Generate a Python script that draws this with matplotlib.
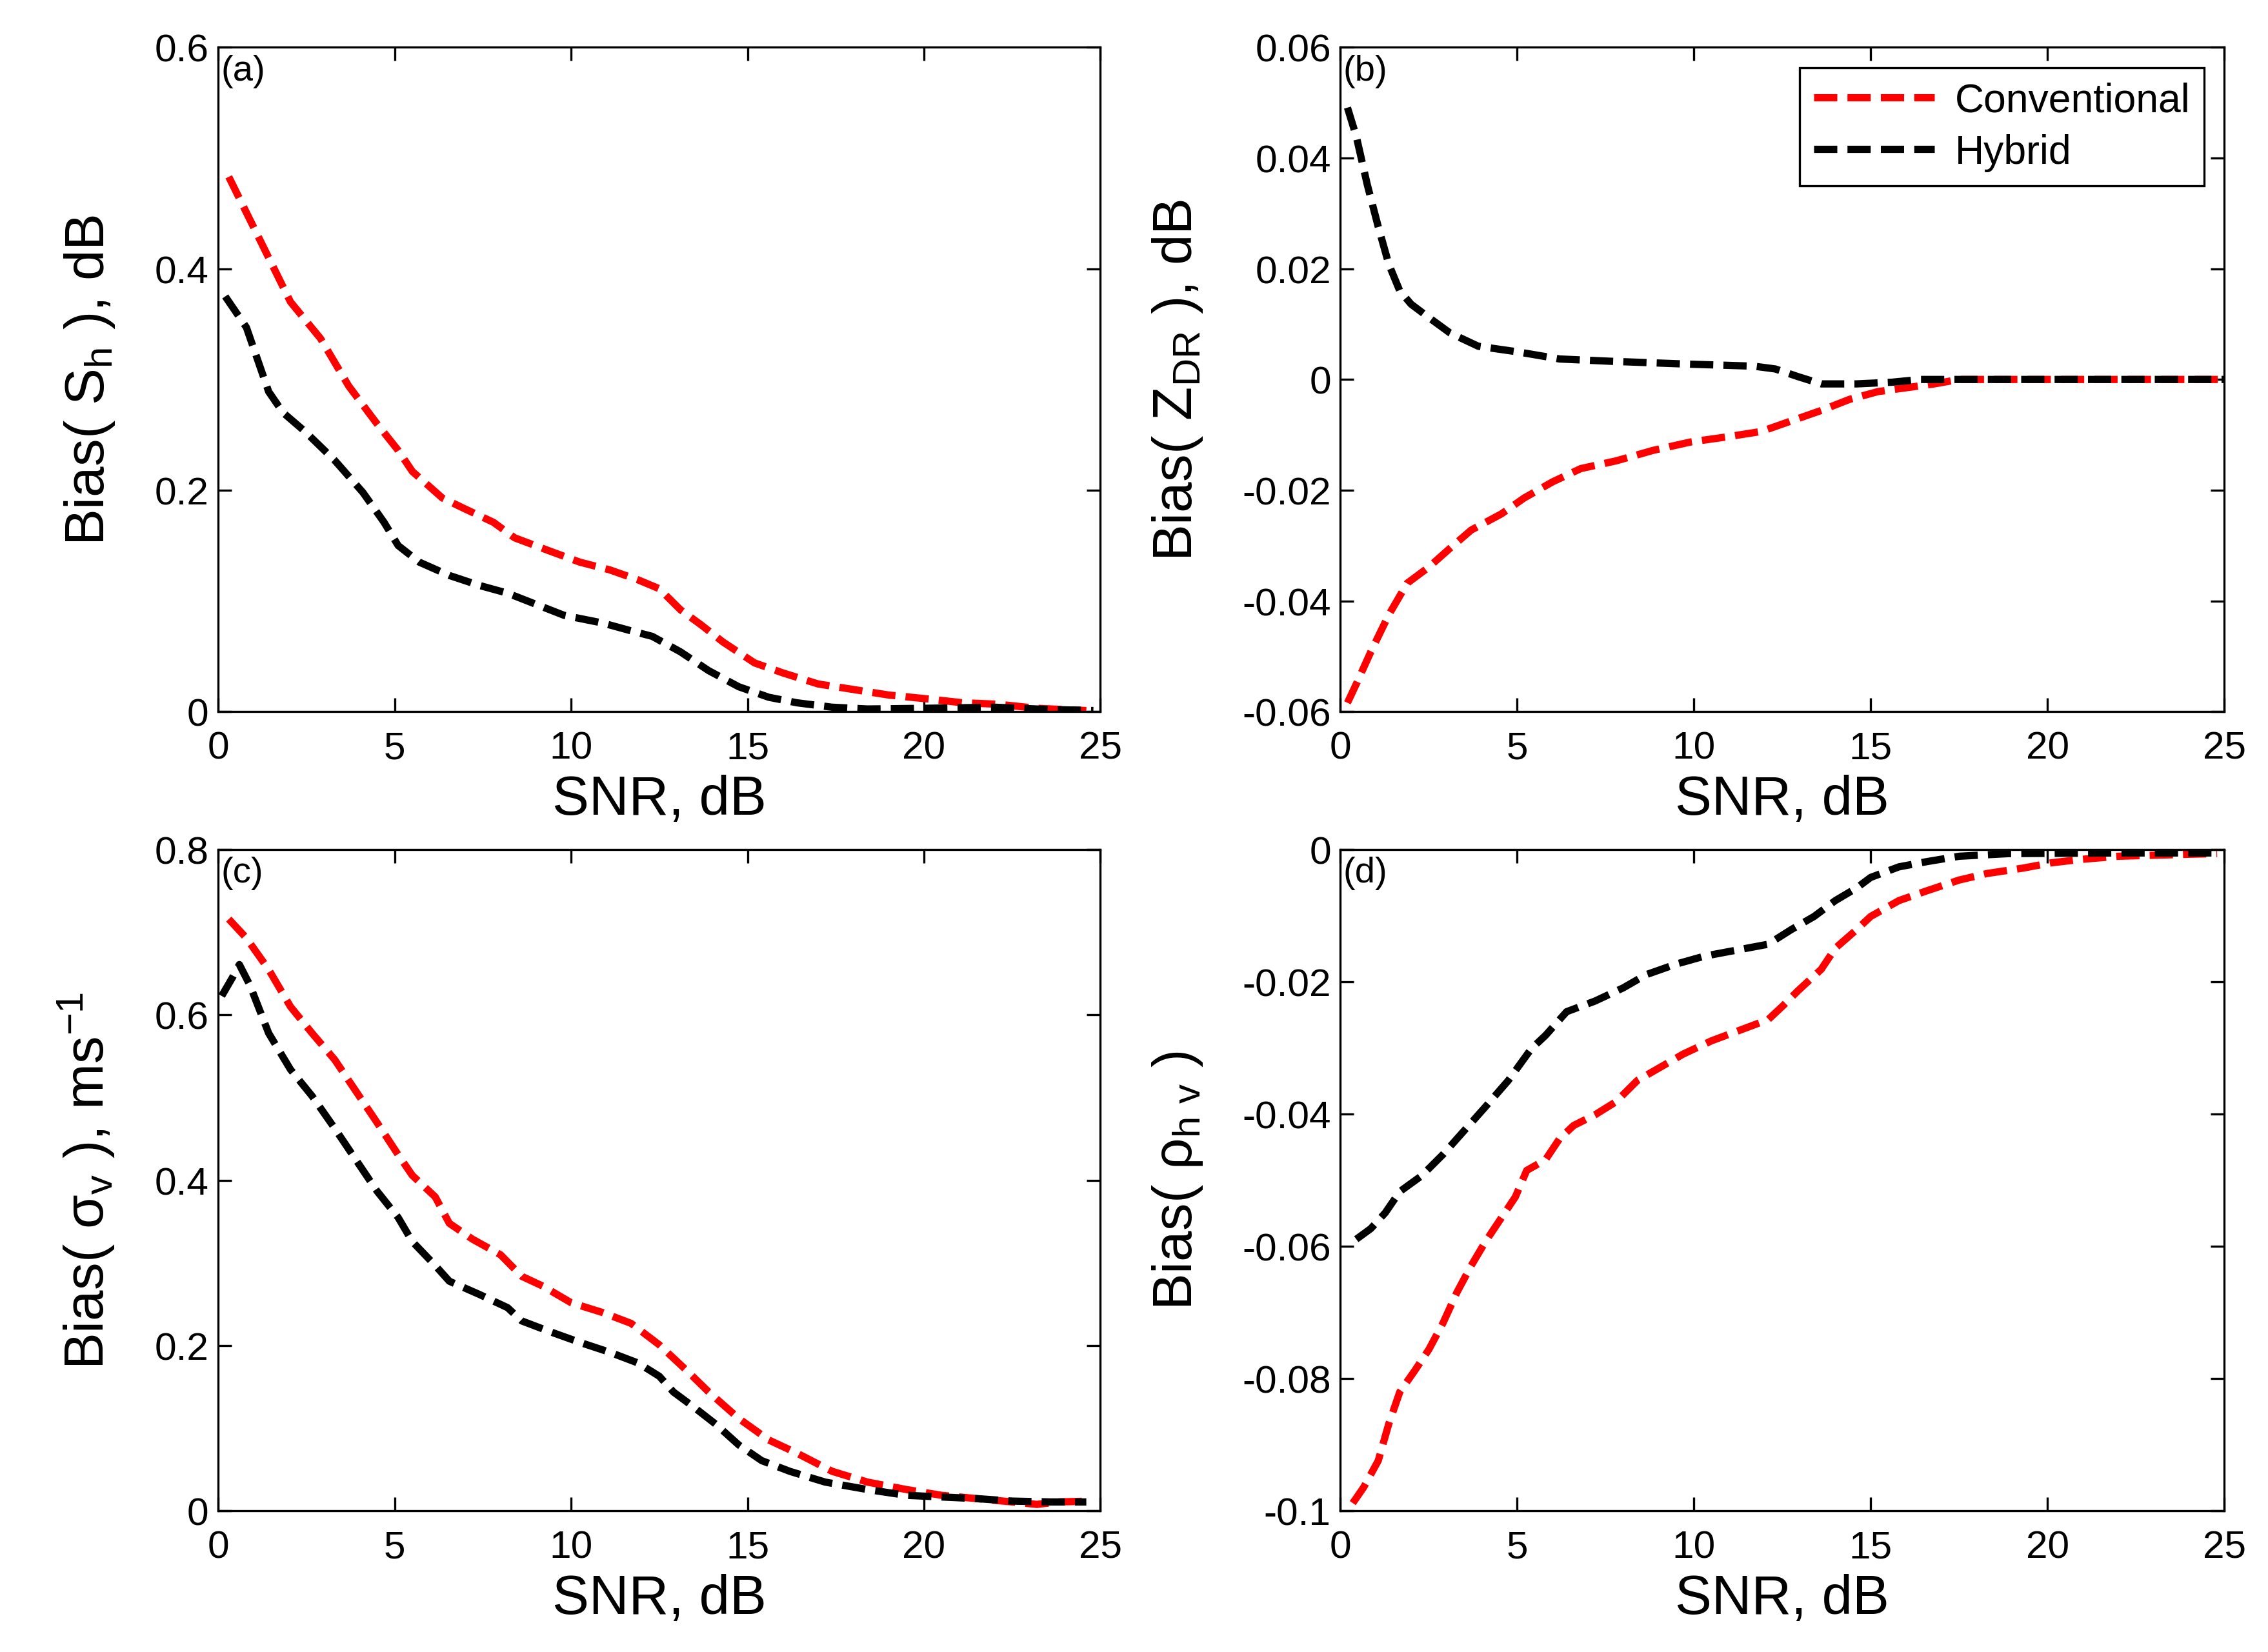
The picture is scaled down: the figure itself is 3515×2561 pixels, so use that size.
import numpy as np
import matplotlib.pyplot as plt

plt.rcParams['font.family'] = ['Liberation Sans', 'DejaVu Sans']
plt.rcParams['mathtext.default'] = 'regular'

# (a) Bias(S_h)
xa_conv = [0.3, 2.05, 2.9, 3.7, 4.5, 5.1, 5.5, 6.35, 7.0, 7.8, 8.4, 9.4, 10.25, 11.1, 11.9,
           12.5, 13.1, 13.7, 14.3, 15.2, 16.0, 17.0, 18.0, 19.0, 20.1, 21.1, 22.1, 23.2, 24.6]
ya_conv = [0.483, 0.37, 0.337, 0.294, 0.26, 0.236, 0.217, 0.193, 0.183, 0.171, 0.157, 0.145,
           0.135, 0.128, 0.119, 0.111, 0.092, 0.078, 0.063, 0.044, 0.035, 0.025, 0.02, 0.015,
           0.0115, 0.008, 0.0067, 0.003, 0.001]
xa_hyb = [0.2, 0.8, 1.43, 1.84, 2.46, 3.3, 4.1, 4.7, 5.1, 5.7, 6.55, 7.4, 8.2, 9.0, 9.8, 10.9,
          11.7, 12.3, 13.1, 13.9, 14.75, 15.6, 16.4, 17.4, 18.4, 20.0, 22.0, 23.5, 24.8]
ya_hyb = [0.375, 0.347, 0.289, 0.27, 0.253, 0.227, 0.198, 0.171, 0.15, 0.135, 0.123, 0.114,
          0.107, 0.097, 0.087, 0.08, 0.073, 0.068, 0.054, 0.037, 0.0225, 0.013, 0.008, 0.004,
          0.0024, 0.003, 0.004, 0.002, 0.001]

# (b) Bias(Z_DR)
xb_conv = [0.2, 0.45, 0.86, 1.37, 1.89, 2.5, 3.1, 3.7, 4.55, 5.2, 6.0, 6.8, 7.8, 8.85, 9.9,
           10.9, 11.9, 12.75, 13.6, 14.4, 15.2, 16.0, 16.8, 17.5, 20.0, 25.0]
yb_conv = [-0.0584, -0.055, -0.0492, -0.0425, -0.0368, -0.0339, -0.0305, -0.0272, -0.0243,
           -0.0214, -0.0185, -0.0161, -0.0147, -0.0128, -0.0113, -0.0104, -0.0094, -0.0075,
           -0.0056, -0.0036, -0.0022, -0.0015, -0.0008, 0.0, 0.0, 0.0]
xb_hyb = [0.2, 0.45, 0.76, 1.07, 1.37, 1.68, 2.0, 2.5, 3.1, 3.9, 5.0, 6.2, 7.6, 9.7, 11.7,
          12.3, 12.95, 13.6, 14.6, 15.6, 16.4, 20.0, 25.0]
yb_hyb = [0.0491, 0.0439, 0.0352, 0.0276, 0.0208, 0.016, 0.0136, 0.0112, 0.0084, 0.006,
          0.005, 0.0037, 0.0033, 0.0028, 0.0024, 0.0019, 0.0005, -0.0008, -0.0008, -0.0005,
          0.0, 0.0, 0.0]

# (c) Bias(sigma_v)
xc_conv = [0.3, 0.8, 1.43, 2.05, 2.66, 3.3, 3.9, 4.5, 5.1, 5.5, 6.15, 6.55, 7.2, 8.0, 8.6,
           9.2, 10.0, 10.9, 11.7, 12.5, 13.3, 13.9, 14.75, 15.6, 16.4, 17.4, 18.4, 19.5, 20.5,
           21.5, 22.5, 23.2, 23.8, 24.7]
yc_conv = [0.716, 0.693, 0.655, 0.61, 0.578, 0.546, 0.508, 0.47, 0.431, 0.406, 0.38, 0.348,
           0.329, 0.31, 0.284, 0.272, 0.252, 0.24, 0.227, 0.201, 0.169, 0.144, 0.112, 0.086,
           0.07, 0.048, 0.035, 0.026, 0.019, 0.015, 0.011, 0.008, 0.011, 0.012]
xc_hyb = [0.1, 0.4, 0.6, 0.9, 1.43, 2.05, 2.66, 3.3, 3.9, 4.5, 5.1, 5.5, 6.15, 6.55, 7.4,
          8.2, 8.6, 9.4, 10.25, 11.1, 11.9, 12.5, 12.9, 13.5, 14.1, 14.75, 15.4, 16.2, 17.2,
          18.4, 19.5, 20.5, 21.5, 22.5, 23.6, 24.6]
yc_hyb = [0.623, 0.645, 0.661, 0.636, 0.578, 0.534, 0.502, 0.463, 0.425, 0.387, 0.355, 0.326,
          0.297, 0.278, 0.262, 0.246, 0.23, 0.217, 0.204, 0.192, 0.179, 0.163, 0.144, 0.125,
          0.105, 0.08, 0.061, 0.048, 0.035, 0.026, 0.019, 0.017, 0.015, 0.012, 0.011, 0.011]

# (d) Bias(rho_hv)
xd_conv = [0.35, 0.66, 1.07, 1.37, 1.68, 2.1, 2.5, 2.9, 3.3, 3.7, 4.1, 4.55, 4.95, 5.27, 5.8,
           6.2, 6.6, 7.2, 7.8, 8.4, 9.05, 9.7, 10.5, 11.3, 12.1, 12.5, 12.95, 13.6, 14.0, 14.6,
           15.0, 15.8, 16.6, 17.5, 18.3, 19.3, 20.1, 20.9, 22.0, 24.0, 24.8]
yd_conv = [-0.0988, -0.0964, -0.0924, -0.0868, -0.082, -0.0788, -0.0756, -0.0716, -0.0669,
           -0.0629, -0.0593, -0.0557, -0.0525, -0.0485, -0.0469, -0.0437, -0.0417, -0.0401,
           -0.0381, -0.0349, -0.0329, -0.0309, -0.0289, -0.0273, -0.0257, -0.0237, -0.0213,
           -0.0181, -0.0149, -0.0121, -0.0101, -0.0077, -0.0062, -0.0046, -0.0036, -0.0028,
           -0.002, -0.0015, -0.001, -0.0007, -0.0006]
xd_hyb = [0.45, 0.86, 1.27, 1.68, 2.3, 2.9, 3.5, 4.1, 4.75, 5.4, 5.8, 6.4, 7.2, 8.0, 8.65,
          9.5, 10.3, 11.1, 12.1, 12.75, 13.4, 14.0, 14.6, 15.0, 15.8, 16.6, 17.5, 18.9, 22.0,
          24.8]
yd_hyb = [-0.0589, -0.0573, -0.0549, -0.0517, -0.0493, -0.0461, -0.0425, -0.0389, -0.0349,
          -0.0301, -0.0281, -0.0245, -0.0229, -0.0209, -0.0189, -0.0173, -0.0161, -0.0153,
          -0.0143, -0.0121, -0.0101, -0.0077, -0.0058, -0.0042, -0.0026, -0.0018, -0.001,
          -0.0006, -0.0005, -0.0005]

panels = [
    ('(a)', r'Bias( S$_h$ ), dB', (0, 0.6), [0, 0.2, 0.4, 0.6], ['0', '0.2', '0.4', '0.6'],
     xa_conv, ya_conv, xa_hyb, ya_hyb),
    ('(b)', r'Bias( Z$_{DR}$ ), dB', (-0.06, 0.06),
     [-0.06, -0.04, -0.02, 0, 0.02, 0.04, 0.06],
     ['-0.06', '-0.04', '-0.02', '0', '0.02', '0.04', '0.06'],
     xb_conv, yb_conv, xb_hyb, yb_hyb),
    ('(c)', r'Bias( $\sigma_v$ ), ms$^{-1}$', (0, 0.8), [0, 0.2, 0.4, 0.6, 0.8],
     ['0', '0.2', '0.4', '0.6', '0.8'], xc_conv, yc_conv, xc_hyb, yc_hyb),
    ('(d)', r'Bias( $\rho_{h\ v}$ )', (-0.1, 0), [-0.1, -0.08, -0.06, -0.04, -0.02, 0],
     ['-0.1', '-0.08', '-0.06', '-0.04', '-0.02', '0'], xd_conv, yd_conv, xd_hyb, yd_hyb),
]

fig = plt.figure(figsize=(3515 / 300, 2562 / 300), dpi=300)
rects = [(0.0962, 0.569, 0.389, 0.402), (0.591, 0.569, 0.3897, 0.402),
         (0.0962, 0.0853, 0.389, 0.4002), (0.591, 0.0853, 0.3897, 0.4002)]

dash = (3.2, 1.4)
for rect, (tag, ylab, ylim, yt, ytl, xc, yc, xh, yh) in zip(rects, panels):
    ax = fig.add_axes(rect)
    ax.plot(xc, yc, color='red', lw=2.7, dashes=dash, label='Conventional')
    ax.plot(xh, yh, color='black', lw=2.7, dashes=dash, label='Hybrid')
    ax.set_xlim(0, 25)
    ax.set_ylim(*ylim)
    ax.set_xticks([0, 5, 10, 15, 20, 25])
    ax.set_yticks(yt)
    ax.set_yticklabels(ytl)
    ax.tick_params(direction='in', top=True, right=True, labelsize=14.5, length=5, width=0.8)
    ax.tick_params(axis='x', pad=7)
    for s in ax.spines.values():
        s.set_linewidth(0.8)
    ax.set_xlabel('SNR, dB', fontsize=20.5, labelpad=3)
    ax.set_ylabel(ylab, fontsize=20.5, labelpad=14)
    ax.text(0.003, 0.99, tag, transform=ax.transAxes, ha='left', va='top', fontsize=13.5)
    if tag == '(b)':
        leg = ax.legend(loc='upper right', fontsize=15, fancybox=False, framealpha=1,
                        edgecolor='black', handlelength=3.0, handletextpad=0.5,
                        borderaxespad=0.5, labelspacing=0.35, borderpad=0.35)
        leg.get_frame().set_linewidth(0.8)

fig.savefig('out.png', dpi=300)
